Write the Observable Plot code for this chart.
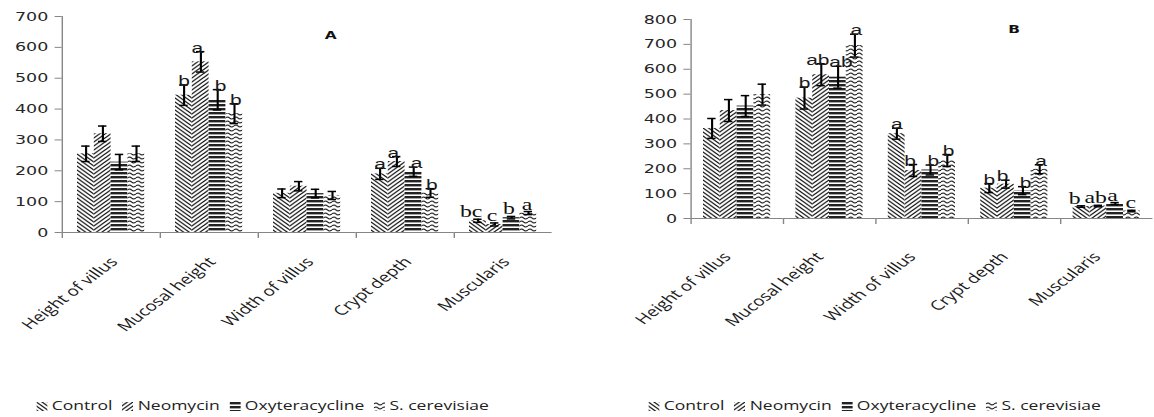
<!DOCTYPE html>
<html><head><meta charset="utf-8">
<script src="https://cdn.jsdelivr.net/npm/d3@7"></script>
<script src="https://cdn.jsdelivr.net/npm/@observablehq/plot@0.6"></script>
<style>
html,body{margin:0;padding:0;background:#fff;width:1154px;height:417px;overflow:hidden;position:relative}
.panel{position:absolute;top:0;width:412px;height:417px;transform:scaleX(1.4);transform-origin:0 0}
.legend{position:absolute;top:398px;display:flex;align-items:center;font-family:"Open Sans",sans-serif;font-size:12.5px;line-height:16px;color:#222;white-space:nowrap}
.legend .item{display:inline-flex;align-items:center;margin-right:7px}
.legend svg{margin-right:3px}
.title{position:absolute;font-family:"DejaVu Sans",sans-serif;font-weight:bold;font-size:11px;line-height:11px;color:#111}
</style></head><body>
<svg width="0" height="0" style="position:absolute;left:0;top:0">
<defs>
<pattern id="pat0" patternUnits="userSpaceOnUse" width="4" height="4">
<rect width="4" height="4" fill="#fff"/>
<path d="M-1,-1 L5,5 M-1,3 L1,5 M3,-1 L5,1" stroke="#111" stroke-width="1"/>
</pattern>
<pattern id="pat1" patternUnits="userSpaceOnUse" width="4" height="4">
<rect width="4" height="4" fill="#fff"/>
<path d="M-1,5 L5,-1 M-1,1 L1,-1 M3,5 L5,3" stroke="#111" stroke-width="1"/>
</pattern>
<pattern id="pat2" patternUnits="userSpaceOnUse" width="4" height="4">
<rect width="4" height="4" fill="#fff"/>
<rect y="0" width="4" height="2.4" fill="#222"/>
</pattern>
<pattern id="pat3" patternUnits="userSpaceOnUse" width="6" height="4">
<rect width="6" height="4" fill="#fff"/>
<path d="M0,2 Q1.5,0 3,2 T6,2" fill="none" stroke="#111" stroke-width="1"/>
</pattern>
</defs>
</svg>
<div id="panelA" class="panel" style="left:0"></div>
<div id="panelB" class="panel" style="left:577px"></div>
<script>
// ---- data ----
const categories = ["Height of villus", "Mucosal height", "Width of villus", "Crypt depth", "Muscularis"];
const series = ["Control", "Neomycin", "Oxyteracycline", "S. cerevisiae"];
const yTicksA = [0, 100, 200, 300, 400, 500, 600, 700];
const yTicksB = [0, 100, 200, 300, 400, 500, 600, 700, 800];

// Panel A
const controlA = [255, 445, 127, 190, 38];
const neomycinA = [320, 553, 150, 230, 26];
const oxyA = [228, 430, 126, 197, 48];
const scerA = [255, 385, 120, 128, 63];
const controlErrA = [25, 33, 14, 18, 5];
const neomycinErrA = [25, 33, 15, 16, 5];
const oxyErrA = [25, 33, 14, 15, 4];
const scerErrA = [25, 32, 13, 14, 5];
const controlLetA = ["", "b", "", "a", "bc"];
const neomycinLetA = ["", "a", "", "a", "c"];
const oxyLetA = ["", "b", "", "a", "b"];
const scerLetA = ["", "b", "", "b", "a"];

// Panel B
const controlB = [362, 484, 341, 122, 48];
const neomycinB = [434, 578, 193, 138, 50];
const oxyB = [452, 568, 195, 112, 60];
const scerB = [498, 695, 233, 198, 30];
const controlErrB = [40, 44, 22, 18, 3];
const neomycinErrB = [44, 44, 24, 16, 3];
const oxyErrB = [42, 44, 20, 16, 4];
const scerErrB = [42, 46, 24, 18, 3];
const controlLetB = ["", "b", "a", "b", "b"];
const neomycinLetB = ["", "ab", "b", "b", "ab"];
const oxyLetB = ["", "ab", "b", "b", "a"];
const scerLetB = ["", "a", "b", "a", "c"];

function buildRows(means, errs, lets) {
  const rows = [];
  series.forEach((s, si) => {
    categories.forEach((c, ci) => {
      const m = means[si][ci], e = errs[si][ci];
      rows.push({cat: c, series: s, mean: m, lo: m - e, hi: m + e, letter: lets[si][ci]});
    });
  });
  return rows;
}
const rowsA = buildRows([controlA, neomycinA, oxyA, scerA], [controlErrA, neomycinErrA, oxyErrA, scerErrA], [controlLetA, neomycinLetA, oxyLetA, scerLetA]);
const rowsB = buildRows([controlB, neomycinB, oxyB, scerB], [controlErrB, neomycinErrB, oxyErrB, scerErrB], [controlLetB, neomycinLetB, oxyLetB, scerLetB]);

const axisColor = "#868686";
const H = 385;
const sansShift = [0, -2.5, 2, 1];
const serifShift = [-5, -2, -2, -1];

function letterMarks(rows) {
  const marks = [];
  series.forEach((s, i) => {
    const sans = rows.filter(d => d.series === s && d.letter && d.cat !== "Muscularis");
    const serif = rows.filter(d => d.series === s && d.letter && d.cat === "Muscularis");
    marks.push(Plot.text(sans, {fx: "cat", x: "series", y: "hi", text: "letter", lineAnchor: "bottom", dy: 1, dx: sansShift[i], fontFamily: "Liberation Sans", fontSize: 15, fill: "#1a1a1a"}));
    marks.push(Plot.text(serif, {fx: "cat", x: "series", y: "hi", text: "letter", lineAnchor: "bottom", dy: -2, dx: serifShift[i], fontFamily: "Liberation Serif", fontSize: 17, fill: "#111"}));
  });
  return marks;
}

function makePanel({rows, yMax, ticks, marginTop, marginBottom, marginLeft, marginRight, labelPad, labelDx}) {
  const innerH = H - marginTop - marginBottom;
  return Plot.plot({
    width: 412, height: H, marginTop, marginBottom, marginLeft, marginRight,
    style: {fontFamily: "DejaVu Sans", fontSize: "12.5px", color: "#222", background: "transparent", overflow: "visible"},
    fx: {domain: categories, padding: 0, axis: null},
    x: {domain: series, paddingInner: 0, paddingOuter: 0.72, axis: null},
    y: {domain: [0, yMax], axis: null},
    color: {domain: series, range: series.map((s, i) => `url(#pat${i})`)},
    marks: [
      Plot.barY(rows, {fx: "cat", x: "series", y: "mean", fill: "series"}),
      Plot.ruleX(rows, {fx: "cat", x: "series", y1: "lo", y2: "hi", stroke: "#000", strokeWidth: 1.5}),
      Plot.tickY(rows, {fx: "cat", x: "series", y: "hi", insetLeft: 3, insetRight: 3, stroke: "#000", strokeWidth: 1.5}),
      Plot.tickY(rows, {fx: "cat", x: "series", y: "lo", insetLeft: 3, insetRight: 3, stroke: "#000", strokeWidth: 1.5}),
      Plot.ruleY([0], {stroke: axisColor}),
      Plot.frame({anchor: "left", stroke: axisColor, insetTop: innerH, insetBottom: -5}),
      Plot.frame({anchor: "left", stroke: axisColor, facet: "super"}),
      Plot.axisY({ticks, tickSize: 5, tickPadding: 5, stroke: axisColor, fill: "#262626", fontSize: 12.5, label: null}),
      Plot.axisFx({anchor: "bottom", tickSize: 0, tickRotate: -47, tickPadding: labelPad, dx: labelDx, label: null, fontFamily: "Open Sans", fontSize: 13.5, fill: "#1a1a1a"}),
      ...letterMarks(rows)
    ]
  });
}

function makeLegend(left) {
  const div = document.createElement("div");
  div.className = "legend";
  div.style.left = left + "px";
  series.forEach((s, i) => {
    const item = document.createElement("span");
    item.className = "item";
    item.innerHTML = `<svg width="8" height="9"><rect width="8" height="9" fill="url(#pat${i})"/></svg><span>${s}</span>`;
    div.appendChild(item);
  });
  return div;
}

function makeTitle(text, left, top) {
  const d = document.createElement("div");
  d.className = "title";
  d.style.left = left + "px";
  d.style.top = top + "px";
  d.textContent = text;
  return d;
}

const pA = document.getElementById("panelA");
pA.appendChild(makePanel({rows: rowsA, yMax: 700, ticks: yTicksA, marginTop: 16, marginBottom: 153, marginLeft: 43, marginRight: 17, labelPad: 27, labelDx: 2}));
pA.appendChild(makeTitle("A", 232, 30));
pA.appendChild(makeLegend(26));

const pB = document.getElementById("panelB");
pB.appendChild(makePanel({rows: rowsB, yMax: 800, ticks: yTicksB, marginTop: 19, marginBottom: 167, marginLeft: 79, marginRight: 0, labelPad: 36, labelDx: -7}));
pB.appendChild(makeTitle("B", 308, 24));
pB.appendChild(makeLegend(51));
</script>
</body></html>
